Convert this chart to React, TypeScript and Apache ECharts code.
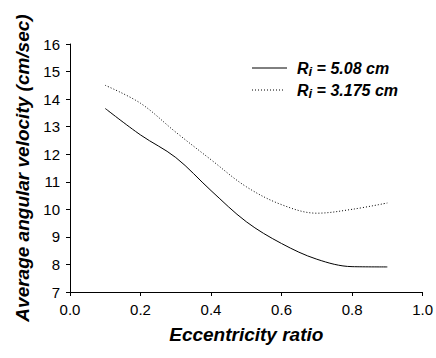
import React, { useEffect, useRef } from "react";
import * as echarts from "echarts";

const xValues = [0.1, 0.2, 0.3, 0.4, 0.5, 0.6, 0.7, 0.8, 0.9];
const solidValues = [13.66, 12.7, 11.88, 10.68, 9.55, 8.76, 8.19, 7.92, 7.91];
const dottedValues = [14.5, 13.85, 12.8, 11.8, 10.82, 10.17, 9.86, 10.0, 10.23];
const xTicks = [0, 0.2, 0.4, 0.6, 0.8, 1.0];
const legendLabels = ["5.08 cm", "3.175 cm"];

export default function App() {
  const ref = useRef<HTMLDivElement>(null);
  useEffect(() => {
    if (!ref.current) return;
    const chart = echarts.init(ref.current, null, { renderer: "svg" });
    const font = "'Liberation Sans', Arial, sans-serif";
    const legendText = (v: string) => `{r|R}{s|i}{r| = ${v}}`;
    const rich = {
      r: { fontFamily: font, fontSize: 16, fontWeight: "bold", fontStyle: "italic", fill: "#000", color: "#000" },
      s: { fontFamily: font, fontSize: 13, fontWeight: "bold", fontStyle: "italic", fill: "#000", color: "#000", padding: [6, 0, 0, 0] },
    };
    chart.setOption({
      animation: false,
      backgroundColor: "#fff",
      grid: { left: 70, right: 13, top: 44, bottom: 66, containLabel: false },
      xAxis: {
        type: "value",
        min: 0,
        max: 1,
        interval: 0.2,
        name: "Eccentricity ratio",
        nameLocation: "middle",
        nameGap: 33,
        nameTextStyle: { fontFamily: font, fontSize: 19, fontWeight: "bold", fontStyle: "italic", color: "#000" },
        axisLine: { show: true, lineStyle: { color: "#000", width: 1 } },
        axisTick: { show: true, length: 4, lineStyle: { color: "#000" } },
        axisLabel: {
          fontFamily: font,
          fontSize: 15,
          color: "#000",
          margin: 10,
          formatter: (v: number) => (xTicks.includes(Math.round(v * 10) / 10) ? v.toFixed(1) : ""),
        },
        splitLine: { show: false },
      },
      yAxis: {
        type: "value",
        min: 7,
        max: 16,
        interval: 1,
        name: "Average angular velocity (cm/sec)",
        nameLocation: "middle",
        nameGap: 35,
        nameTextStyle: { fontFamily: font, fontSize: 19, fontWeight: "bold", fontStyle: "italic", color: "#000" },
        axisLine: { show: true, lineStyle: { color: "#000", width: 1 } },
        axisTick: { show: true, length: 4, lineStyle: { color: "#000" } },
        axisLabel: { fontFamily: font, fontSize: 15, color: "#000", margin: 10 },
        splitLine: { show: false },
      },
      series: [
        {
          type: "line",
          data: xValues.map((x, i) => [x, solidValues[i]]),
          smooth: 0.35,
          showSymbol: false,
          lineStyle: { color: "#000", width: 1, type: "solid" },
        },
        {
          type: "line",
          data: xValues.map((x, i) => [x, dottedValues[i]]),
          smooth: 0.35,
          showSymbol: false,
          lineStyle: { color: "#000", width: 1, type: [1, 2] },
        },
      ],
      graphic: [
        { type: "line", shape: { x1: 252, y1: 68, x2: 287, y2: 68 }, style: { stroke: "#000", lineWidth: 1 } },
        { type: "line", shape: { x1: 252, y1: 90, x2: 285, y2: 90 }, style: { stroke: "#000", lineWidth: 1, lineDash: [1, 2] } },
        { type: "text", x: 297, y: 68, style: { text: legendText(legendLabels[0]), rich, verticalAlign: "middle", align: "left" } },
        { type: "text", x: 297, y: 90, style: { text: legendText(legendLabels[1]), rich, verticalAlign: "middle", align: "left" } },
      ],
    });
    return () => chart.dispose();
  }, []);
  return <div ref={ref} style={{ width: 436, height: 358, position: "absolute", left: 0, top: 0 }} />;
}
